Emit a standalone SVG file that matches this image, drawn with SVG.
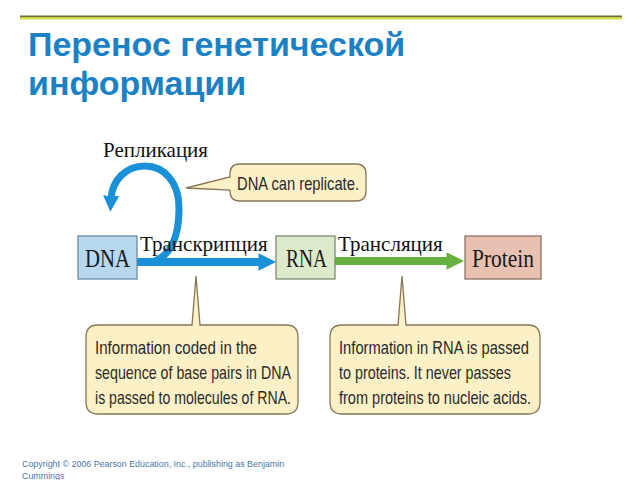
<svg xmlns="http://www.w3.org/2000/svg" width="640" height="480" viewBox="0 0 640 480">
<defs>
<style>
.title{font-family:"Liberation Sans",Arial,sans-serif;font-weight:bold;font-size:34px;fill:#1a82c4}
.lbl{font-family:"Liberation Serif","Times New Roman",serif;font-size:21px;fill:#111}
.node{font-family:"Liberation Serif","Times New Roman",serif;font-size:26px;fill:#1a1a1a}
.call{fill:#fcf0c6;stroke:#857656;stroke-width:1.3}
.ct{font-family:"Liberation Sans",Arial,sans-serif;font-size:19px;fill:#2a2a2a}
.copy{font-family:"Liberation Sans",Arial,sans-serif;font-size:8.9px;fill:#4a78a8}
</style>
<marker id="ab" viewBox="0 0 10 10" refX="2" refY="5" markerWidth="2.2" markerHeight="2.5" orient="auto" markerUnits="strokeWidth"><path d="M0 0L10 5L0 10z" fill="#1a90d8"/></marker>
<marker id="abc" viewBox="0 0 10 10" refX="2" refY="5" markerWidth="2.3" markerHeight="2.8" orient="auto" markerUnits="strokeWidth"><path d="M0 0L10 5L0 10z" fill="#1a90d8"/></marker>
<marker id="ag" viewBox="0 0 10 10" refX="2" refY="5" markerWidth="2.2" markerHeight="2.5" orient="auto" markerUnits="strokeWidth"><path d="M0 0L10 5L0 10z" fill="#66b040"/></marker>
</defs>
<rect width="640" height="480" fill="#fff"/>
<line x1="20" y1="16.5" x2="622" y2="16.5" stroke="#6b6b2c" stroke-width="2"/>
<line x1="20" y1="18.5" x2="622" y2="18.5" stroke="#d9e03a" stroke-width="2"/>
<text class="title" x="28" y="56">Перенос генетической</text>
<text class="title" x="28" y="95">информации</text>

<g id="connectors">
<path d="M137 262H262" stroke="#1a90d8" stroke-width="8" fill="none" marker-end="url(#ab)"/>
<path d="M335 261H450" stroke="#66b040" stroke-width="8" fill="none" marker-end="url(#ag)"/>
<path d="M152 262C172 256 179 236 179 208C179 182 164 166 145 166C126 166 112 180 111 199" stroke="#1a90d8" stroke-width="7" fill="none" marker-end="url(#abc)"/>
</g>

<g id="lbl-replication"><text class="lbl" x="103" y="157">Репликация</text></g>
<g id="lbl-transcription"><text class="lbl" x="140" y="251">Транскрипция</text></g>
<g id="lbl-translation"><text class="lbl" x="338" y="251">Трансляция</text></g>

<g id="dna"><rect x="78" y="236" width="59" height="43" fill="#b6d7ee" stroke="#6c8ca2" stroke-width="1.3"/><text class="node" x="85" y="267" textLength="45" lengthAdjust="spacingAndGlyphs">DNA</text></g>
<g id="rna"><rect x="276" y="236" width="59" height="43" fill="#dde9cb" stroke="#7c8c70" stroke-width="1.3"/><text class="node" x="286" y="267" textLength="41" lengthAdjust="spacingAndGlyphs">RNA</text></g>
<g id="protein"><rect x="465" y="236" width="76" height="43" fill="#e8c1b0" stroke="#8c7468" stroke-width="1.3"/><text class="node" x="472" y="267" textLength="62" lengthAdjust="spacingAndGlyphs">Protein</text></g>

<g id="callout-replicate">
<path class="call" d="M240 164H356Q366 164 366 174V191Q366 201 356 201H240Q230 201 230 191V190L186 188L230 177V174Q230 164 240 164Z"/>
<text class="ct" x="237" y="190" textLength="122" lengthAdjust="spacingAndGlyphs">DNA can replicate.</text>
</g>
<g id="callout-transcription">
<path class="call" d="M98 325H192L196 276L200 325H286Q298 325 298 337V402Q298 414 286 414H98Q86 414 86 402V337Q86 325 98 325Z"/>
<text class="ct" x="95" y="354" textLength="162" lengthAdjust="spacingAndGlyphs">Information coded in the</text>
<text class="ct" x="95" y="379" textLength="196" lengthAdjust="spacingAndGlyphs">sequence of base pairs in DNA</text>
<text class="ct" x="95" y="404" textLength="196" lengthAdjust="spacingAndGlyphs">is passed to molecules of RNA.</text>
</g>
<g id="callout-translation">
<path class="call" d="M342 325H398L402 276L406 325H528Q540 325 540 337V402Q540 414 528 414H342Q330 414 330 402V337Q330 325 342 325Z"/>
<text class="ct" x="339" y="354" textLength="190" lengthAdjust="spacingAndGlyphs">Information in RNA is passed</text>
<text class="ct" x="339" y="379" textLength="172" lengthAdjust="spacingAndGlyphs">to proteins. It never passes</text>
<text class="ct" x="339" y="404" textLength="192" lengthAdjust="spacingAndGlyphs">from proteins to nucleic acids.</text>
</g>

<text class="copy" x="22" y="467">Copyright © 2006 Pearson Education, Inc., publishing as Benjamin</text>
<text class="copy" x="22" y="479">Cummings</text>
</svg>
